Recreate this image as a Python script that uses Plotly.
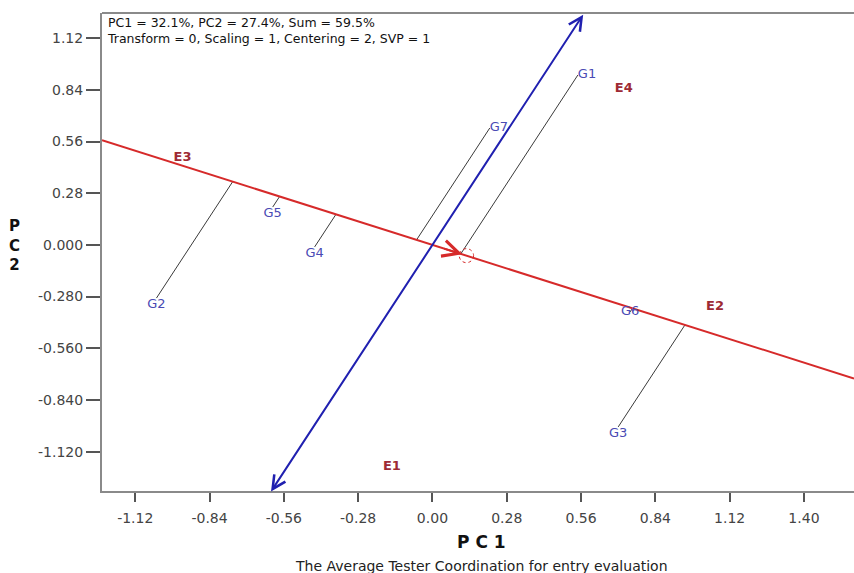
import numpy as np
import plotly.graph_objects as go

# ---------------- data ----------------
genotypes = ["G1", "G2", "G3", "G4", "G5", "G6", "G7"]
g_pc1 = [0.548, -1.040, 0.700, -0.444, -0.602, 0.745, 0.216]
g_pc2 = [0.920, -0.288, -0.986, -0.011, 0.205, -0.363, 0.633]
g_textpos = ["middle right", "bottom center", "bottom center", "bottom center",
             "bottom center", "middle center", "middle right"]

environments = ["E1", "E2", "E3", "E4"]
e_pc1 = [-0.153, 1.065, -0.942, 0.721]
e_pc2 = [-1.203, -0.336, 0.471, 0.844]

avg_env = [0.128, -0.0583]          # average environment (PC1, PC2)

x_tickvals = [-1.12, -0.84, -0.56, -0.28, 0.00, 0.28, 0.56, 0.84, 1.12, 1.40]
x_ticktext = ["-1.12", "-0.84", "-0.56", "-0.28", "0.00", "0.28", "0.56", "0.84", "1.12", "1.40"]
y_tickvals = [1.12, 0.84, 0.56, 0.28, 0.0, -0.28, -0.56, -0.84, -1.12]
y_ticktext = ["1.12", "0.84", "0.56", "0.28", "0.000", "-0.280", "-0.560", "-0.840", "-1.120"]

x_range = [-1.2453, 1.5886]
y_range = [-1.333, 1.256]
blue_x_span = [-0.612, 0.568]

info_text = "PC1 = 32.1%, PC2 = 27.4%, Sum = 59.5%<br>Transform = 0, Scaling = 1, Centering = 2, SVP = 1"

# ---------------- geometry ----------------
ax_, ay_ = avg_env
slope_aea = ay_ / ax_
slope_perp = -ax_ / ay_
u = np.array(avg_env) / np.linalg.norm(avg_env)

fig = go.Figure()

# projection lines of genotypes onto the average environment axis
for gx, gy, name in zip(g_pc1, g_pc2, genotypes):
    t = gx * u[0] + gy * u[1]
    fx, fy = t * u[0], t * u[1]
    fig.add_trace(go.Scatter(x=[fx, gx], y=[fy, gy], mode="lines",
                             line=dict(color="#3a3a3a", width=1),
                             hoverinfo="skip", showlegend=False))

# average environment axis (red)
fig.add_trace(go.Scatter(x=x_range, y=[slope_aea * v for v in x_range], mode="lines",
                         line=dict(color="#d62a2a", width=2),
                         hoverinfo="skip", showlegend=False))

# genotype labels
fig.add_trace(go.Scatter(x=g_pc1, y=g_pc2, mode="text", text=genotypes,
                         textposition=g_textpos,
                         textfont=dict(family="DejaVu Sans", size=13, color="#4a4ab4"),
                         showlegend=False))

# environment labels
fig.add_trace(go.Scatter(x=e_pc1, y=e_pc2, mode="text", text=environments,
                         textposition="middle center",
                         textfont=dict(family="DejaVu Sans", size=13, color="#9e2a34", weight="bold"),
                         showlegend=False))

annotations = []
# blue double-headed ordinate axis
annotations.append(dict(x=blue_x_span[1], y=slope_perp * blue_x_span[1],
                        ax=blue_x_span[0], ay=slope_perp * blue_x_span[0],
                        xref="x", yref="y", axref="x", ayref="y", text="",
                        showarrow=True, arrowside="end+start", arrowhead=5,
                        arrowsize=1.3, arrowwidth=2, arrowcolor="#2020b0"))
# red arrow toward the average environment
annotations.append(dict(x=ax_ * 0.88, y=ay_ * 0.88, ax=ax_ * 0.3, ay=ay_ * 0.3,
                        xref="x", yref="y", axref="x", ayref="y", text="",
                        showarrow=True, arrowhead=5, arrowsize=1.6, arrowwidth=2,
                        arrowcolor="#d62a2a"))
# info text
annotations.append(dict(x=0.004, y=0.999, xref="paper", yref="paper", xanchor="left",
                        yanchor="top", align="left", text=info_text, showarrow=False,
                        font=dict(family="DejaVu Sans", size=12.5, color="#111111")))
# axis titles
annotations.append(dict(x=0.505, y=-0.107, xref="paper", yref="paper", text="P C 1",
                        xanchor="center", yanchor="middle", showarrow=False,
                        font=dict(family="DejaVu Sans", size=17, color="#111111", weight="bold")))
annotations.append(dict(x=0.504, y=-0.157, xref="paper", yref="paper",
                        xanchor="center", yanchor="middle",
                        text="The Average Tester Coordination for entry evaluation",
                        showarrow=False,
                        font=dict(family="DejaVu Sans", size=14, color="#222222")))
annotations.append(dict(x=-0.1157, y=0.5126, xref="paper", yref="paper", text="P<br>C<br>2",
                        xanchor="center", yanchor="middle", showarrow=False,
                        font=dict(family="DejaVu Sans", size=15, color="#111111", weight="bold")))

shapes = [
    # average environment circle
    dict(type="circle", xref="x", yref="y",
         x0=ax_ - 0.027, x1=ax_ + 0.027, y0=ay_ - 0.038, y1=ay_ + 0.038,
         line=dict(color="#d62a2a", width=1, dash="dot")),
    # top frame line
    dict(type="line", xref="paper", yref="paper", x0=0, x1=1, y0=1, y1=1,
         line=dict(color="#8a8a8a", width=2)),
]

fig.update_layout(
    width=854, height=573,
    margin=dict(l=102, r=0, t=13, b=82),
    paper_bgcolor="white", plot_bgcolor="white",
    showlegend=False,
    annotations=annotations, shapes=shapes,
    xaxis=dict(range=x_range, tickvals=x_tickvals, ticktext=x_ticktext,
               showgrid=False, zeroline=False, showline=True, linecolor="#8a8a8a",
               linewidth=2, ticks="outside", ticklen=9, tickwidth=1.5, tickcolor="#555555",
               ticklabelstandoff=4,
               tickfont=dict(family="DejaVu Sans", size=14, color="#444444")),
    yaxis=dict(range=y_range, tickvals=y_tickvals, ticktext=y_ticktext,
               showgrid=False, zeroline=False, showline=True, linecolor="#8a8a8a",
               linewidth=2, ticks="outside", ticklen=14, tickwidth=1.5, tickcolor="#555555",
               tickfont=dict(family="DejaVu Sans", size=14, color="#444444")),
)

fig.write_html("out.html")
